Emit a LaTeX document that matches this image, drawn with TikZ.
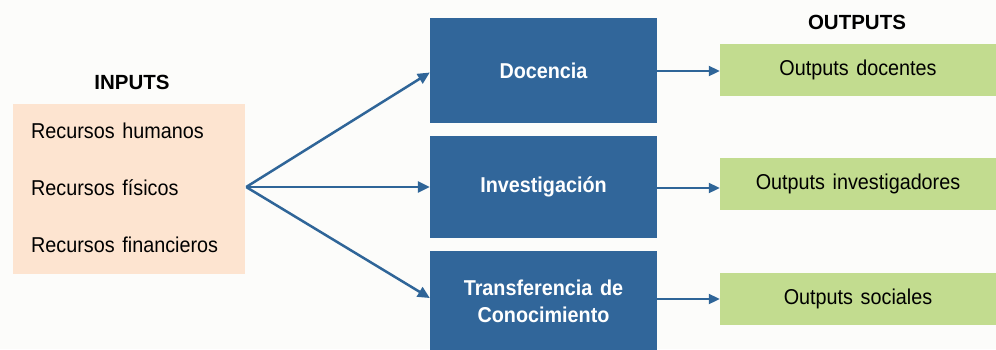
\documentclass[tikz,border=0pt]{standalone}
\usepackage{fontspec}
\setmainfont{Liberation Sans}[FakeStretch=0.92,WordSpace=1.4]
\newfontfamily\titlefont{Liberation Sans}
\usetikzlibrary{arrows.meta,positioning}
\definecolor{peach}{HTML}{FDE4D0}
\definecolor{boxblue}{HTML}{31669A}
\definecolor{lightgreen}{HTML}{C2DC8F}
\definecolor{arrowblue}{HTML}{2F6598}
\definecolor{bgcol}{HTML}{FCFCFA}
\tikzset{
  inbox/.style={fill=peach, draw=none, minimum width=232pt, minimum height=170pt, inner sep=0pt},
  actbox/.style={fill=boxblue, draw=none, minimum width=227pt, text=white, font=\fontsize{21.5}{27}\selectfont\bfseries, align=center, inner sep=0pt},
  outbox/.style={fill=lightgreen, draw=none, minimum width=276pt, minimum height=52pt, font=\fontsize{21.5}{26}\selectfont, inner sep=0pt},
  title/.style={font=\titlefont\fontsize{20.5}{24}\selectfont\bfseries},
  item/.style={font=\fontsize{21.5}{26}\selectfont, anchor=west, inner sep=0pt},
  flow/.style={draw=arrowblue, line width=2.5pt, -{Triangle[length=12pt,width=11pt]}},
  flowthin/.style={draw=arrowblue, line width=2pt, -{Triangle[length=11pt,width=10pt]}}
}
\begin{document}
\begin{tikzpicture}[x=1pt,y=-1pt]
\clip (0,0) rectangle (996,349);
\fill[bgcol] (0,0) rectangle (996,349);
% inputs
\node[title] (tin) at (132,82) {INPUTS};
\node[inbox] (in) at (129,189) {};
\node[item] (i1) at (31,131) {Recursos humanos};
\node[item] (i2) at (31,188) {Recursos físicos};
\node[item] (i3) at (31,245) {Recursos financieros};
% activities
\node[actbox, minimum height=105pt] (doc) at (543.5,70.5) {Docencia};
\node[actbox, minimum height=102pt] (inv) at (543.5,187) {Investigación};
\node[actbox, minimum height=100pt] (tra) at (543.5,301) {Transferencia de\\Conocimiento};
% outputs
\node[title] (tout) at (857,22) {OUTPUTS};
\node[outbox] (od) at (858,69.5) {Outputs docentes};
\node[outbox] (oi) at (858,184) {Outputs investigadores};
\node[outbox] (os) at (858,298.5) {Outputs sociales};
% connectors
\coordinate (src) at ([xshift=1pt,yshift=2pt]in.east);
\draw[flow] (src) -- ([yshift=-2pt]doc.west);
\draw[flow] (src) -- (inv.west);
\draw[flow] (src) -- ([yshift=3pt]tra.west);
\draw[flowthin] ([yshift=-0.5pt]doc.east) -- ([yshift=-0.5pt]doc.east -| od.west);
\draw[flowthin] ([yshift=-1pt]inv.east) -- ([yshift=-1pt]inv.east -| oi.west);
\draw[flowthin] ([yshift=2pt]tra.east) -- ([yshift=2pt]tra.east -| os.west);
\end{tikzpicture}
\end{document}
